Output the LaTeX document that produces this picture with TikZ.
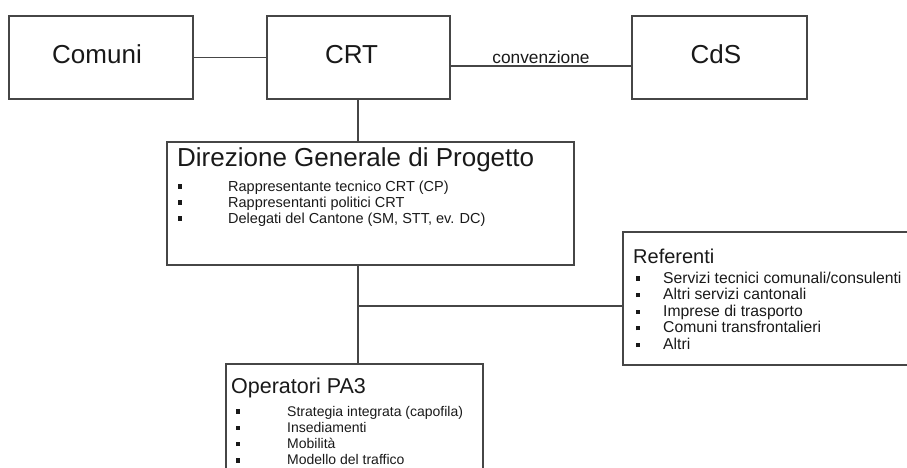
\documentclass[tikz,border=0pt]{standalone}
\usepackage{fontspec}
\setmainfont{Liberation Sans}
\usetikzlibrary{positioning}

\definecolor{framegray}{RGB}{70,70,70}
\definecolor{inkgray}{RGB}{25,25,25}
\newcommand{\blt}{\raisebox{2.4pt}{\rule{4.2pt}{4.2pt}}}
\newcommand{\fsz}[2]{\fontsize{#1}{#2}\selectfont}

\begin{document}
\begin{tikzpicture}[x=1pt,y=-1pt,
	box/.style={draw=framegray,line width=1.25pt,inner sep=0pt,rectangle,text=inkgray},
	link/.style={draw=framegray,line width=1.25pt},
	head/.style={anchor=base west,inner sep=0pt,text=inkgray},
	items/.style={anchor=base west,inner sep=0pt,text=inkgray,align=left}]
	\useasboundingbox (0,0) rectangle (907,467);
	\clip (0,0) rectangle (907,467);
	% top row
	\node[box,minimum width=184pt,minimum height=83pt,font=\fsz{26}{30},text height=18pt,text depth=7pt] (comuni) at (101,57.5) {Comuni\hspace*{8pt}};
	\node[box,minimum width=183pt,minimum height=83pt,font=\fsz{26}{30},text height=18pt,text depth=7pt] (crt) at (358.5,57.5) {CRT\hspace*{14pt}};
	\node[box,minimum width=175pt,minimum height=83pt,font=\fsz{26}{30},text height=18pt,text depth=7pt] (cds) at (719.5,57.5) {CdS\hspace*{7pt}};
	% boxes with lists
	\node[box,minimum width=407pt,minimum height=123pt] (dgp) at (370.5,203.5) {};
	\node[box,minimum width=292pt,minimum height=133pt] (ref) at (769,298.5) {};
	\node[box,minimum width=257pt,minimum height=156pt] (ops) at (354.5,442) {};
	% titles and lists
	\node[head,font=\fsz{26}{30}] (dgptitle) at (177,166) {Direzione Generale di Progetto};
	\node[items,font=\fsz{14.5}{16}] (dgplist) at (178,191) {\begin{tabular}[t]{@{}p{50pt}@{}l@{}}
		\blt & Rappresentante tecnico CRT (CP)\\
		\blt & Rappresentanti politici CRT\\
		\blt & Delegati del Cantone (SM, STT, ev. DC)
	\end{tabular}};
	\node[head,font=\fsz{20}{24}] (reftitle) at (633,263) {Referenti};
	\node[items,font=\fsz{15.7}{16.6}] (reflist) at (636,283) {\begin{tabular}[t]{@{}p{27pt}@{}l@{}}
		\blt & Servizi tecnici comunali/consulenti\\
		\blt & Altri servizi cantonali\\
		\blt & Imprese di trasporto\\
		\blt & Comuni transfrontalieri\\
		\blt & Altri
	\end{tabular}};
	\node[head,font=\fsz{21.5}{25}] (opstitle) at (231,393) {Operatori PA3};
	\node[items,font=\fsz{14}{16.3}] (opslist) at (235.5,416) {\begin{tabular}[t]{@{}p{51.5pt}@{}l@{}}
		\blt & Strategia integrata (capofila)\\
		\blt & Insediamenti\\
		\blt & Mobilità\\
		\blt & Modello del traffico
	\end{tabular}};
	% connectors
	\coordinate (spine) at (358,306);
	\draw[link] (comuni) -- (crt);
	\draw[link] ([yshift=-8.5pt]crt.east) -- node[midway,above,inner sep=2pt,font=\fsz{17.3}{20},text=inkgray] (conv) {convenzione} ([yshift=-8.5pt]cds.west);
	\draw[link] (crt.south -| spine) -- (dgp.north -| spine);
	\draw[link] (dgp.south -| spine) -- (ops.north -| spine);
	\draw[link] (spine) -- (ref.west |- spine);
\end{tikzpicture}
\end{document}
